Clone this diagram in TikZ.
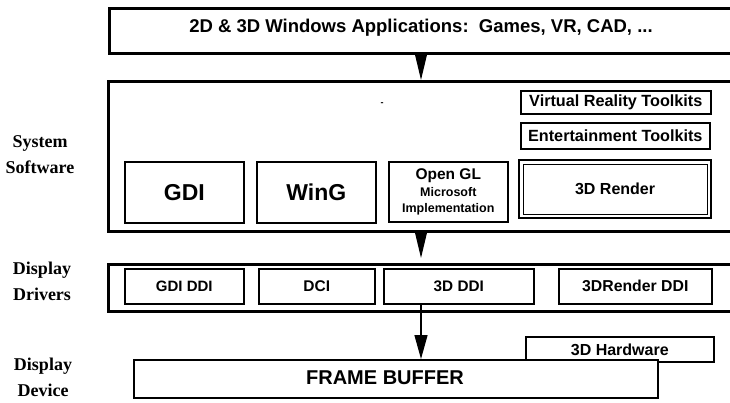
\documentclass[tikz,border=0pt]{standalone}
\usepackage{fontspec}
\setmainfont{Liberation Sans}
\newfontfamily\labfont{Liberation Serif}
\usetikzlibrary{arrows.meta}
\tikzset{
  outerbox/.style={draw, line width=2.6pt, anchor=north west, inner sep=0pt},
  innerbox/.style={draw, line width=1.6pt, anchor=north west, inner sep=0pt, align=center, font=\bfseries},
  lab/.style={align=center, font=\labfont\bfseries\fontsize{18}{26}\selectfont},
  arr/.style={line width=1.4pt, -{Triangle[width=12pt,length=26pt]}},
}
\begin{document}
\begin{tikzpicture}[x=1pt,y=-1pt]
\clip (0,0) rectangle (730,402);
\fill[white] (0,0) rectangle (730,402);
% outer layer boxes (open to the right edge)
\node[outerbox, minimum width=640, minimum height=45] (top) at (108,7) {};
\node[font=\bfseries\fontsize{18.5}{20}\selectfont] (toptxt) at (421,28) {2D \& 3D Windows Applications:\ \ Games, VR, CAD, ...};
\node[outerbox, minimum width=640, minimum height=150] (sys) at (107,80) {};
\node[outerbox, minimum width=640, minimum height=47] (drv) at (107,263) {};
% system software
\node[innerbox, minimum width=119, minimum height=61, font=\bfseries\fontsize{23}{26}\selectfont] (gdi) at (124,161) {GDI};
\node[innerbox, minimum width=119, minimum height=61, font=\bfseries\fontsize{23}{26}\selectfont] (wing) at (256,161) {WinG};
\node[innerbox, minimum width=119, minimum height=60, font=\bfseries\fontsize{12.5}{16}\selectfont] (ogl) at (388,161) {{\fontsize{15.5}{17}\selectfont Open GL}\\[1pt]Microsoft\\Implementation};
\node[innerbox, line width=2.2pt, minimum width=192, minimum height=58, font=\bfseries\fontsize{16}{18}\selectfont] (rend) at (518,159) {3D Render};
\draw[line width=1pt] ([shift={(5pt,-5pt)}]rend.north west) rectangle ([shift={(-5pt,5pt)}]rend.south east);
\node[innerbox, minimum width=190, minimum height=23, font=\bfseries\fontsize{16.2}{18}\selectfont] (vr) at (520,90) {Virtual Reality Toolkits};
\node[innerbox, minimum width=189, minimum height=26, font=\bfseries\fontsize{16.2}{18}\selectfont] (ent) at (520,122) {Entertainment Toolkits};
\node[font=\bfseries\small] (dash) at (382,104) {-};
% display drivers
\node[innerbox, minimum width=119, minimum height=35, font=\bfseries\fontsize{15}{17}\selectfont] (gdiddi) at (124,268) {GDI DDI};
\node[innerbox, minimum width=116, minimum height=35, font=\bfseries\fontsize{15.5}{17}\selectfont] (dci) at (258,268) {DCI};
\node[innerbox, minimum width=150, minimum height=35, font=\bfseries\fontsize{15.3}{17}\selectfont] (ddd) at (383,268) {3D DDI};
\node[innerbox, minimum width=153, minimum height=35, font=\bfseries\fontsize{15.8}{17}\selectfont] (rddi) at (558,268) {3DRender DDI};
% display device
\node[innerbox, minimum width=188, minimum height=25, font=\bfseries\fontsize{16}{18}\selectfont] (hw) at (525,336) {3D Hardware};
\node[innerbox, line width=2.2pt, fill=white, minimum width=524, minimum height=38] (fb) at (133,359) {};
\node[font=\bfseries\fontsize{20}{22}\selectfont] (fbt) at (385,378) {FRAME BUFFER};
% labels
\node[lab] (l1) at (40,155) {System\\Software};
\node[lab] (l2) at (42,281) {Display\\Drivers};
\node[lab] (l3) at (43,377) {Display\\Device};
% arrows
\coordinate (ax) at (421,0);
\coordinate (tip2) at (421,258);
\draw[arr] (top.south -| ax) -- (sys.north -| ax);
\draw[arr] (sys.south -| ax) -- (tip2);
\draw[arr, -{Triangle[width=13pt,length=24pt]}] (ddd.south -| ax) -- (fb.north -| ax);
\end{tikzpicture}
\end{document}
